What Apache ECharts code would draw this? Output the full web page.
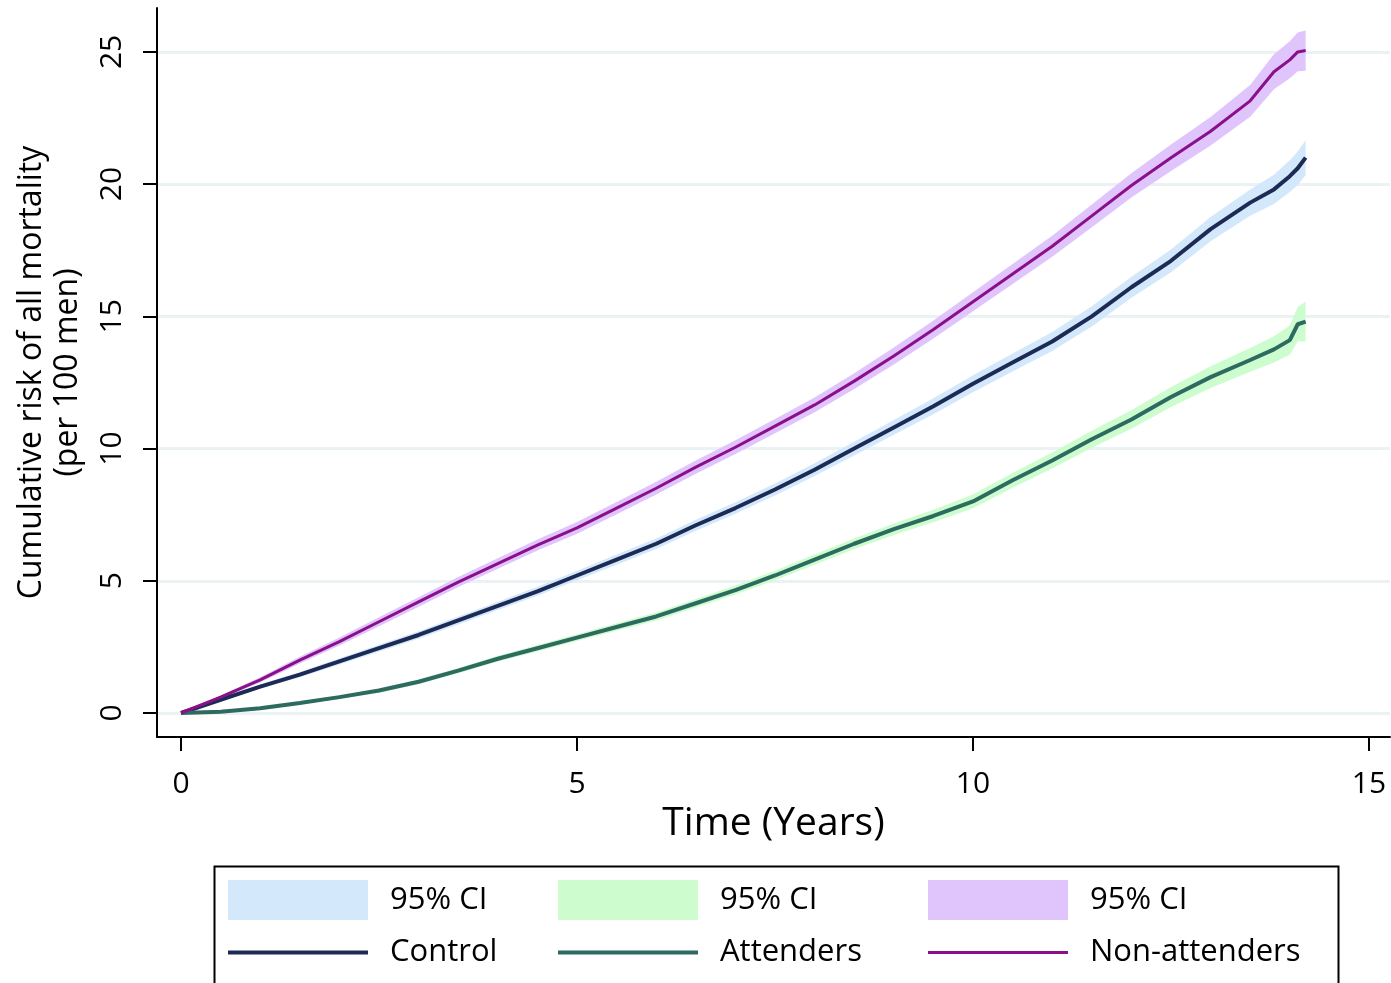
<!DOCTYPE html>
<html>
<head>
<meta charset="utf-8">
<script src="https://cdn.jsdelivr.net/npm/echarts@6/dist/echarts.min.js"></script>
<style>
html,body{margin:0;padding:0;background:#fff;}
#chart{width:1391px;height:983px;}
</style>
</head>
<body>
<div id="chart"></div>
<script>
// ---- Data ----
const time = [0,0.5,1,1.5,2,2.5,3,3.5,4,4.5,5,5.5,6,6.5,7,7.5,8,8.5,9,9.5,10,10.5,11,11.5,12,12.5,13,13.5,13.8,14,14.1,14.2];

const control      = [0,0.5,1.0,1.45,1.95,2.45,2.95,3.5,4.05,4.6,5.2,5.8,6.4,7.1,7.75,8.45,9.2,10.0,10.8,11.6,12.45,13.25,14.05,15.0,16.1,17.1,18.3,19.3,19.8,20.3,20.6,21.0];
const controlLo    = [0,0.45,0.92,1.35,1.83,2.32,2.81,3.35,3.89,4.43,5.02,5.61,6.2,6.89,7.53,8.22,8.96,9.74,10.52,11.3,12.13,12.91,13.69,14.62,15.7,16.67,17.84,18.8,19.25,19.7,19.97,20.34];
const controlHi    = [0,0.55,1.08,1.55,2.07,2.58,3.09,3.65,4.21,4.77,5.38,5.99,6.6,7.31,7.97,8.68,9.44,10.26,11.08,11.9,12.77,13.59,14.41,15.38,16.5,17.53,18.76,19.8,20.35,20.9,21.23,21.66];

const attenders    = [0,0.05,0.18,0.38,0.6,0.85,1.18,1.6,2.05,2.45,2.85,3.25,3.65,4.15,4.65,5.2,5.8,6.4,6.95,7.45,8.0,8.8,9.55,10.35,11.1,11.95,12.7,13.35,13.75,14.1,14.7,14.8];
const attendersLo  = [0,0.03,0.14,0.33,0.54,0.77,1.09,1.5,1.94,2.33,2.72,3.11,3.5,3.99,4.48,5.02,5.61,6.2,6.73,7.21,7.74,8.52,9.25,10.03,10.75,11.57,12.29,12.9,13.25,13.55,14.05,14.05];
const attendersHi  = [0,0.07,0.22,0.43,0.66,0.93,1.27,1.7,2.16,2.57,2.98,3.39,3.8,4.31,4.82,5.38,5.99,6.6,7.17,7.69,8.26,9.08,9.85,10.67,11.45,12.33,13.11,13.8,14.25,14.65,15.35,15.55];

const nonAttenders   = [0,0.6,1.25,2.0,2.7,3.45,4.2,4.95,5.65,6.35,7.0,7.75,8.5,9.3,10.05,10.85,11.65,12.55,13.5,14.5,15.55,16.6,17.65,18.8,19.95,21.0,22.0,23.15,24.25,24.7,25.0,25.05];
const nonAttendersLo = [0,0.54,1.15,1.87,2.55,3.28,4.02,4.76,5.45,6.14,6.78,7.52,8.26,9.05,9.79,10.58,11.37,12.25,13.18,14.16,15.19,16.22,17.25,18.37,19.49,20.5,21.46,22.55,23.59,24.0,24.27,24.29];
const nonAttendersHi = [0,0.66,1.35,2.13,2.85,3.62,4.38,5.14,5.85,6.56,7.22,7.98,8.74,9.55,10.31,11.12,11.93,12.85,13.82,14.84,15.91,16.98,18.05,19.23,20.41,21.5,22.54,23.75,24.91,25.4,25.73,25.81];

const xTicks = [0,5,10,15];
const yTicks = [0,5,10,15,20,25];

// ---- Styles ----
const FONT = '"Open Sans", Lato, sans-serif';
const C_NAVY = '#1c2b55', C_TEAL = '#2d6a60', C_PURP = '#8a0f8a';
const F_BLUE = '#d4e8fc', F_GREEN = '#cdfdce', F_PURP = '#e0c4fc';

function pairs(xs, ys){ return xs.map((x,i)=>[x, ys[i]]); }

function bandSeries(name, lo, hi, fill){
  return {
    name: name,
    type: 'custom',
    coordinateSystem: 'cartesian2d',
    silent: true,
    itemStyle: {color: fill},
    data: [[time[0], lo[0]]],
    renderItem: function(params, api){
      const pts = [];
      for (let i = 0; i < time.length; i++) pts.push(api.coord([time[i], hi[i]]));
      for (let i = time.length - 1; i >= 0; i--) pts.push(api.coord([time[i], lo[i]]));
      return {type: 'polygon', shape: {points: pts}, style: {fill: fill, stroke: null}};
    }
  };
}

function lineSeries(name, ys, color, width){
  return {
    name: name,
    type: 'line',
    data: pairs(time, ys),
    symbol: 'none',
    showSymbol: false,
    smooth: false,
    lineStyle: {color: color, width: width},
    itemStyle: {color: color},
    z: 3
  };
}

function lineLegendItem(name, color, width){
  return {
    name: name,
    icon: 'path://M0,0 L140,0 L140,' + width + ' L0,' + width + ' Z',
    itemStyle: {color: color, borderWidth: 0},
    lineStyle: {color: color, width: 0, opacity: 0}
  };
}

const legendCommon = {
  orient: 'vertical',
  top: 880,
  padding: 0,
  itemWidth: 140,
  itemHeight: 40,
  itemGap: 17,
  selectedMode: false,
  textStyle: {fontFamily: FONT, fontSize: 31, color: '#000', padding: [0,0,0,17]},
  formatter: function(n){ return n.indexOf('95% CI') === 0 ? '95% CI' : n; }
};

const chart = echarts.init(document.getElementById('chart'), null, {renderer: 'canvas'});
chart.setOption({
  animation: false,
  backgroundColor: '#fff',
  grid: {left: 157, right: 1, top: 8, bottom: 246, containLabel: false, outerBoundsMode: 'none'},
  xAxis: {
    type: 'value',
    min: -0.303, max: 15.265,
    axisLine: {show: true, onZero: false, lineStyle: {color: '#000', width: 2}},
    axisTick: {show: true, length: 14, customValues: xTicks, lineStyle: {color: '#000', width: 2}},
    axisLabel: {customValues: xTicks, margin: 32, fontFamily: FONT, fontSize: 30, color: '#000'},
    splitLine: {show: false},
    name: 'Time (Years)',
    nameLocation: 'middle',
    nameGap: 65,
    nameTextStyle: {fontFamily: FONT, fontSize: 39, color: '#000'}
  },
  yAxis: {
    type: 'value',
    min: -0.908, max: 26.66,
    axisLine: {show: true, onZero: false, lineStyle: {color: '#000', width: 2}},
    axisTick: {show: true, length: 14, customValues: yTicks, lineStyle: {color: '#000', width: 2}},
    axisLabel: {customValues: yTicks, rotate: 90, margin: 30, fontFamily: FONT, fontSize: 30, color: '#000'},
    splitLine: {show: true, lineStyle: {color: '#eaf2f3', width: 3}},
    name: 'Cumulative risk of all mortality\n(per 100 men)',
    nameLocation: 'middle',
    nameRotate: 90,
    nameGap: 71,
    nameTextStyle: {fontFamily: FONT, fontSize: 32, lineHeight: 36, color: '#000'}
  },
  legend: [
    Object.assign({}, legendCommon, {left: 228, data: [
      {name: '95% CI (Control)', icon: 'rect', itemStyle: {color: F_BLUE}},
      lineLegendItem('Control', C_NAVY, 4)
    ]}),
    Object.assign({}, legendCommon, {left: 558, data: [
      {name: '95% CI (Attenders)', icon: 'rect', itemStyle: {color: F_GREEN}},
      lineLegendItem('Attenders', C_TEAL, 4)
    ]}),
    Object.assign({}, legendCommon, {left: 928, data: [
      {name: '95% CI (Non-attenders)', icon: 'rect', itemStyle: {color: F_PURP}},
      lineLegendItem('Non-attenders', C_PURP, 3)
    ]})
  ],
  graphic: [{
    type: 'rect',
    left: 212, top: 864,
    shape: {width: 1124, height: 140},
    style: {fill: 'none', stroke: '#000', lineWidth: 2},
    silent: true
  }],
  series: [
    bandSeries('95% CI (Control)', controlLo, controlHi, F_BLUE),
    bandSeries('95% CI (Attenders)', attendersLo, attendersHi, F_GREEN),
    bandSeries('95% CI (Non-attenders)', nonAttendersLo, nonAttendersHi, F_PURP),
    lineSeries('Control', control, C_NAVY, 4),
    lineSeries('Attenders', attenders, C_TEAL, 4),
    lineSeries('Non-attenders', nonAttenders, C_PURP, 3)
  ]
});
</script>
</body>
</html>
